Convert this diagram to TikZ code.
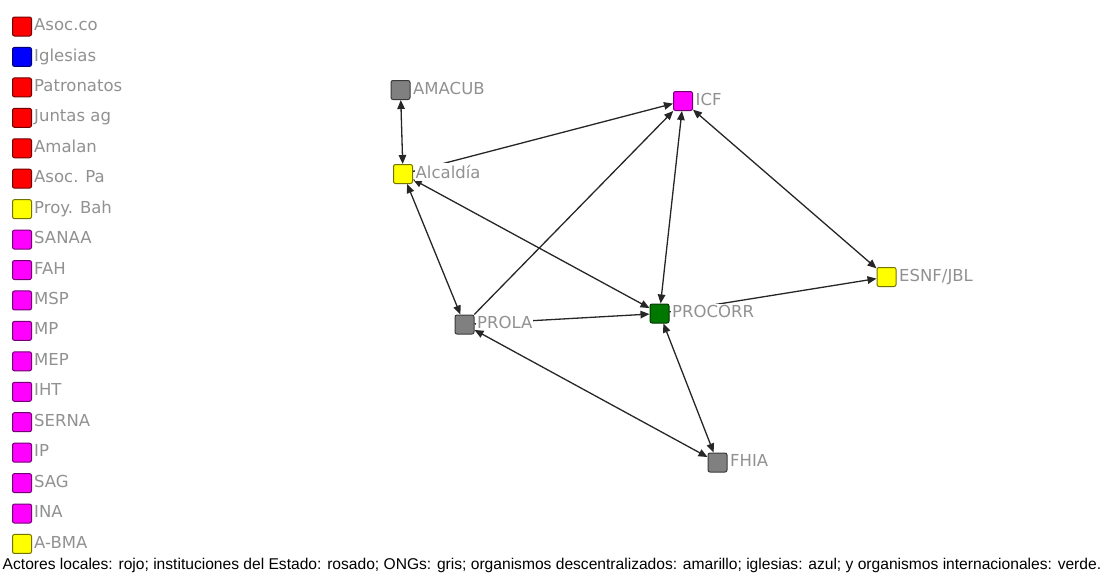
\documentclass[tikz,border=0pt]{standalone}
\usepackage{fontspec}
\setmainfont{DejaVu Sans}
\newfontfamily\captionfont{Liberation Sans}
\usetikzlibrary{arrows.meta,positioning}
\definecolor{lblgray}{RGB}{145,145,145}
\definecolor{actred}{RGB}{255,0,0}
\definecolor{actblue}{RGB}{0,0,255}
\definecolor{actyellow}{RGB}{255,255,0}
\definecolor{actpink}{RGB}{255,0,255}
\definecolor{actgray}{RGB}{128,128,128}
\definecolor{actgreen}{RGB}{0,120,0}
\tikzset{
  actor/.style={draw=#1!45!black, fill=#1, line width=1pt, rounded corners=2pt,
    minimum size=19pt, inner sep=0pt},
  lbl/.style={text=lblgray, font=\fontsize{16.5}{18}\selectfont, fill=white,
    inner sep=1pt, text depth=0pt, anchor=west, yshift=2pt},
  tie/.style={line width=1.3pt, draw=black!85},
}
\begin{document}
\begin{tikzpicture}[x=1pt,y=-1pt,>={Triangle[length=9pt,width=7.5pt]}]
      \useasboundingbox (0,0) rectangle (1105,581);
      % legend
      \foreach \name/\col [count=\i from 0] in {Asoc.co/actred, Iglesias/actblue,
          Patronatos/actred, Juntas ag/actred, Amalan/actred, Asoc. Pa/actred,
          Proy. Bah/actyellow, SANAA/actpink, FAH/actpink, MSP/actpink, MP/actpink,
          MEP/actpink, IHT/actpink, SERNA/actpink, IP/actpink, SAG/actpink,
          INA/actpink, A-BMA/actyellow}
        \node[actor=\col] (leg\i) at (22,26.5+30.44*\i) {}
          node[lbl, right=1pt of leg\i] {\name};
      % actors
      \draw
        (400.5,90) node[actor=actgray] (amacub){}
        (683,101) node[actor=actpink] (icf){}
        (403,174) node[actor=actyellow] (alcaldia){}
        (886.5,277) node[actor=actyellow] (esnf){}
        (659.5,313.5) node[actor=actgreen] (procorr){}
        (464.5,324.5) node[actor=actgray] (prola){}
        (717.5,462.5) node[actor=actgray] (fhia){};
      \begin{scope}[tie,<->]
        \draw (amacub) to (alcaldia);
        \draw (alcaldia) to (prola);
        \draw (alcaldia) to (procorr);
        \draw (icf) to (procorr);
        \draw (icf) to (esnf);
        \draw (prola) to (fhia);
        \draw (procorr) to (fhia);
      \end{scope}
      \begin{scope}[tie,->]
        \draw (alcaldia) to (icf);
        \draw (prola) to (icf);
        \draw (prola) to (procorr);
        \draw (procorr) to (esnf);
      \end{scope}
      % labels
      \node[lbl, right=1.5pt of amacub] {AMACUB};
      \node[lbl, right=1.5pt of icf] {ICF};
      \node[lbl, right=1.5pt of alcaldia, inner ysep=2.5pt] {Alcaldía};
      \node[lbl, right=1.5pt of esnf] {ESNF/JBL};
      \node[lbl, right=1.5pt of procorr] {PROCORR};
      \node[lbl, right=1.5pt of prola] {PROLA};
      \node[lbl, right=1.5pt of fhia] {FHIA};
      % caption
      \node[anchor=base, font=\captionfont\fontsize{15.6}{17}\selectfont] (caption) at (552,569)
        {Actores locales: rojo; instituciones del Estado: rosado; ONGs: gris; organismos descentralizados: amarillo; iglesias: azul; y organismos internacionales: verde.};
    \end{tikzpicture}
\end{document}
